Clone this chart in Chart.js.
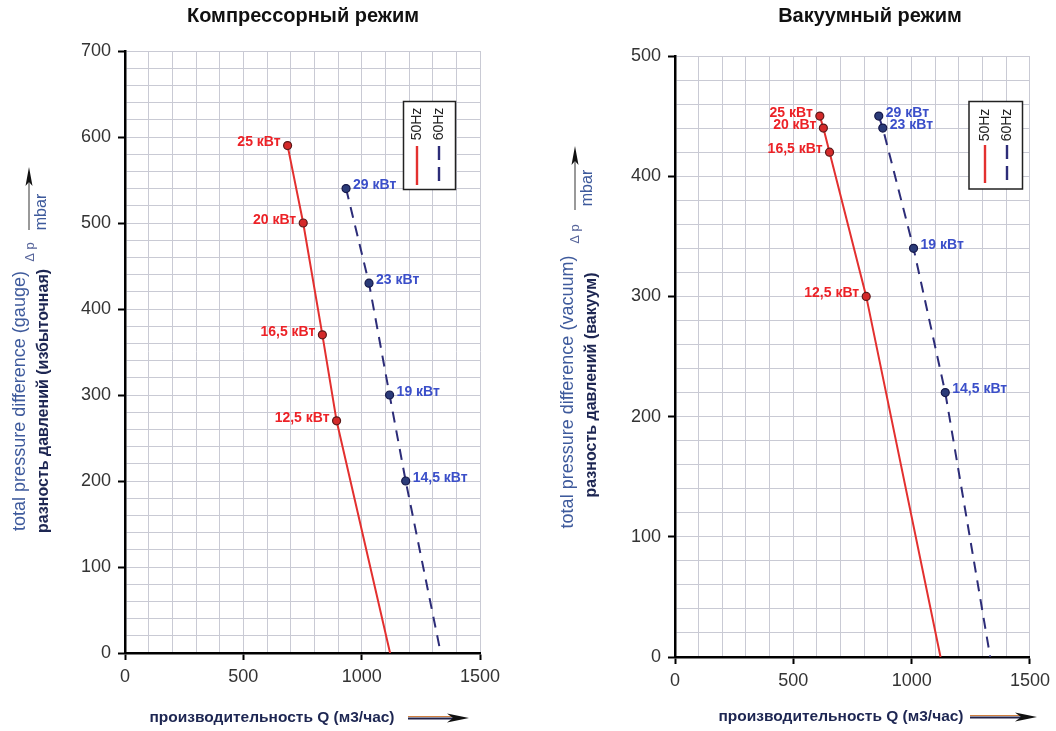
<!DOCTYPE html>
<html>
<head>
<meta charset="utf-8">
<script src="https://cdn.jsdelivr.net/npm/chart.js@4.4.1/dist/chart.umd.min.js"></script>
<style>
  html, body { margin:0; padding:0; background:#fff; }
  #wrap { position:relative; width:1056px; height:731px; }
  .pane { position:absolute; top:0; width:528px; height:731px; }
</style>
</head>
<body>
<div id="wrap">
  <div class="pane" style="left:0"><canvas id="cComp"></canvas></div>
  <div class="pane" style="left:528px"><canvas id="cVac"></canvas></div>
</div>
<script>
// ---------- DATA ----------
const qTickLabels = [0, 500, 1000, 1500];
const compPTickLabels = [0, 100, 200, 300, 400, 500, 600, 700];
const vacPTickLabels = [0, 100, 200, 300, 400, 500];

// Compressor mode
const comp50Q = [687, 753, 834, 894, 1120];
const comp50P = [590, 500, 370, 270, 0];
const comp50Kw = ['25 кВт', '20 кВт', '16,5 кВт', '12,5 кВт', ''];
const comp60Q = [934, 1031, 1118, 1186, 1334];
const comp60P = [540, 430, 300, 200, 0];
const comp60Kw = ['29 кВт', '23 кВт', '19 кВт', '14,5 кВт', ''];

// Vacuum mode
const vac50Q = [612, 627, 653, 808, 1122];
const vac50P = [450, 440, 420, 300, 0];
const vac50Kw = ['25 кВт', '20 кВт', '16,5 кВт', '12,5 кВт', ''];
const vac60Q = [861, 878, 1008, 1142, 1332];
const vac60P = [450, 440, 340, 220, 0];
const vac60Kw = ['29 кВт', '23 кВт', '19 кВт', '14,5 кВт', ''];

const seriesNames = ['50Hz', '60Hz'];

// ---------- STYLE ----------
const FONT = '"Liberation Sans", Arial, Helvetica, sans-serif';
const RED = '#e3302f';
const BLUE = '#2c2c78';
const RED_LABEL = '#ec2227';
const BLUE_LABEL = '#3b4fc9';

function pts(q, p) { return q.map((x, i) => ({ x: x, y: p[i] })); }

function rotText(ctx, text, x, y, font, color) {
  ctx.save();
  ctx.translate(x, y);
  ctx.rotate(-Math.PI / 2);
  ctx.font = font + ' ' + FONT;
  ctx.fillStyle = color;
  ctx.textAlign = 'center';
  ctx.textBaseline = 'middle';
  ctx.fillText(text, 0, 0);
  ctx.restore();
}

const decor = {
  id: 'decor',
  afterDatasetsDraw(chart, args, o) {
    const ctx = chart.ctx;
    ctx.save();
    chart.data.datasets.forEach((ds, di) => {
      const meta = chart.getDatasetMeta(di);
      ctx.font = 'bold 14px ' + FONT;
      ctx.fillStyle = ds.kwColor;
      ctx.textBaseline = 'middle';
      ctx.textAlign = ds.kwSide === 'left' ? 'right' : 'left';
      meta.data.forEach((el, i) => {
        const t = ds.kw[i];
        if (!t) return;
        const dx = ds.kwSide === 'left' ? -7 : 7;
        ctx.fillText(t, el.x + dx, el.y - 3);
      });
    });
    ctx.restore();
  },
  afterDraw(chart, args, o) {
    const ctx = chart.ctx;
    ctx.save();
    // title
    ctx.font = 'bold 20px ' + FONT;
    ctx.fillStyle = '#111';
    ctx.textAlign = 'center';
    ctx.textBaseline = 'middle';
    ctx.fillText(o.title, o.titleX, 16);

    // y-axis titles
    rotText(ctx, o.yEn, o.yEnX, o.yEnY, '18px', '#3e5a9c');
    rotText(ctx, o.yRu, o.yRuX, o.yRuY, 'bold 16px', '#1d2652');
    rotText(ctx, 'Δ p', o.dpX, o.dpY, '13px', '#56649a');
    rotText(ctx, 'mbar', o.mbarX, o.mbarY, '16px', '#3e5a9c');

    // vertical arrow
    ctx.strokeStyle = '#777';
    ctx.lineWidth = 1.5;
    ctx.beginPath();
    ctx.moveTo(o.arX, o.arY1);
    ctx.lineTo(o.arX, o.arY2 + 10);
    ctx.stroke();
    ctx.fillStyle = '#111';
    ctx.beginPath();
    ctx.moveTo(o.arX, o.arY2);
    ctx.lineTo(o.arX - 3.5, o.arY2 + 19);
    ctx.lineTo(o.arX, o.arY2 + 15);
    ctx.lineTo(o.arX + 3.5, o.arY2 + 19);
    ctx.closePath();
    ctx.fill();

    // x-axis title
    ctx.font = 'bold 15.5px ' + FONT;
    ctx.fillStyle = '#1d2652';
    ctx.textAlign = 'center';
    ctx.textBaseline = 'middle';
    ctx.fillText(o.xt, o.xtX, o.xtY);
    // horizontal arrow
    ctx.strokeStyle = '#d08040';
    ctx.lineWidth = 1;
    ctx.beginPath();
    ctx.moveTo(o.hx1, o.xtY - 1.5);
    ctx.lineTo(o.hx2 - 16, o.xtY - 1.5);
    ctx.stroke();
    ctx.strokeStyle = '#23234a';
    ctx.lineWidth = 2;
    ctx.beginPath();
    ctx.moveTo(o.hx1, o.xtY + 0.5);
    ctx.lineTo(o.hx2 - 10, o.xtY + 0.5);
    ctx.stroke();
    ctx.fillStyle = '#111';
    ctx.beginPath();
    ctx.moveTo(o.hx2, o.xtY);
    ctx.lineTo(o.hx2 - 22, o.xtY - 4.5);
    ctx.lineTo(o.hx2 - 16, o.xtY);
    ctx.lineTo(o.hx2 - 22, o.xtY + 4.5);
    ctx.closePath();
    ctx.fill();

    // legend box
    const L = o.leg;
    ctx.fillStyle = '#fff';
    ctx.fillRect(L.x1, L.y1, L.x2 - L.x1, L.y2 - L.y1);
    ctx.strokeStyle = '#222';
    ctx.lineWidth = 1.5;
    ctx.strokeRect(L.x1, L.y1, L.x2 - L.x1, L.y2 - L.y1);
    chart.data.datasets.forEach((ds, di) => {
      const cx = L.cx[di];
      rotText(ctx, ds.label, cx, L.ty, '14px', '#222');
      ctx.strokeStyle = ds.borderColor;
      ctx.lineWidth = 2.4;
      ctx.setLineDash(ds.borderDash.length ? [14, 7] : []);
      ctx.beginPath();
      ctx.moveTo(cx, L.ly1);
      ctx.lineTo(cx, L.ly2);
      ctx.stroke();
      ctx.setLineDash([]);
    });
    ctx.restore();
  }
};

function makeChart(id, s50, s60, yMax, yTicks, lay, deco) {
  const mk = (s, color, dash, ptFill, ptBorder, side, lc) => ({
    label: s.name,
    data: pts(s.q, s.p),
    kw: s.kw,
    kwSide: side,
    kwColor: lc,
    borderColor: color,
    borderWidth: 2,
    borderDash: dash,
    pointRadius: s.kw.map(t => t ? 4 : 0),
    pointBackgroundColor: ptFill,
    pointBorderColor: ptBorder,
    pointBorderWidth: 1.2,
    tension: 0,
    fill: false,
    showLine: true
  });
  const tickStyle = { size: 18, family: FONT };
  return new Chart(document.getElementById(id), {
    type: 'scatter',
    data: {
      datasets: [
        mk(s50, RED, [], '#d42a2a', '#5a1a1a', 'left', RED_LABEL),
        mk(s60, BLUE, [11, 8], '#2b3b78', '#15184a', 'right', BLUE_LABEL)
      ]
    },
    options: {
      responsive: true,
      maintainAspectRatio: false,
      animation: false,
      devicePixelRatio: 1,
      layout: { padding: lay.padding },
      plugins: {
        legend: { display: false },
        tooltip: { enabled: false },
        title: { display: false },
        decor: deco
      },
      scales: {
        x: {
          type: 'linear', min: 0, max: 1500,
          afterFit: sc => { sc.height = lay.xh; },
          ticks: {
            stepSize: 100, autoSkip: false, maxRotation: 0, padding: 6,
            color: '#333', font: tickStyle,
            callback: v => qTickLabels.includes(v) ? String(v) : ''
          },
          grid: {
            color: '#c9cad4', lineWidth: 1, tickLength: 7, tickWidth: 2,
            tickColor: c => (c.tick && qTickLabels.includes(c.tick.value)) ? '#000' : 'rgba(0,0,0,0)'
          },
          border: { color: '#000', width: 2.5 }
        },
        y: {
          type: 'linear', min: 0, max: yMax,
          afterFit: sc => { sc.width = lay.yw; },
          ticks: {
            stepSize: 20, autoSkip: false, padding: 7,
            color: '#333', font: tickStyle,
            callback: v => yTicks.includes(v) ? String(v) : ''
          },
          grid: {
            color: '#c9cad4', lineWidth: 1, tickLength: 7, tickWidth: 2,
            tickColor: c => (c.tick && yTicks.includes(c.tick.value)) ? '#000' : 'rgba(0,0,0,0)'
          },
          border: { color: '#000', width: 2.5 }
        }
      }
    },
    plugins: [decor]
  });
}

makeChart('cComp',
  { name: seriesNames[0], q: comp50Q, p: comp50P, kw: comp50Kw },
  { name: seriesNames[1], q: comp60Q, p: comp60P, kw: comp60Kw },
  700, compPTickLabels,
  { padding: { left: 0, right: 48, top: 51, bottom: 0 }, yw: 125, xh: 78 },
  {
    title: 'Компрессорный режим', titleX: 303,
    yEn: 'total pressure difference (gauge)', yEnX: 20, yEnY: 401,
    yRu: 'разность давлений (избыточная)', yRuX: 44, yRuY: 401,
    dpX: 30, dpY: 252, mbarX: 42, mbarY: 212,
    arX: 29, arY1: 230, arY2: 167,
    xt: 'производительность Q (м3/час)', xtX: 272, xtY: 718, hx1: 408, hx2: 469,
    leg: { x1: 403.5, y1: 101.5, x2: 455.5, y2: 189.5, cx: [417, 439], ty: 124, ly1: 146, ly2: 185 }
  });

makeChart('cVac',
  { name: seriesNames[0], q: vac50Q, p: vac50P, kw: vac50Kw },
  { name: seriesNames[1], q: vac60Q, p: vac60P, kw: vac60Kw },
  500, vacPTickLabels,
  { padding: { left: 0, right: 24, top: 56, bottom: 0 }, yw: 147, xh: 74 },
  {
    title: 'Вакуумный режим', titleX: 342,
    yEn: 'total pressure difference (vacuum)', yEnX: 40, yEnY: 392,
    yRu: 'разность давлений (вакуум)', yRuX: 64, yRuY: 385,
    dpX: 47, dpY: 234, mbarX: 60, mbarY: 188,
    arX: 47, arY1: 210, arY2: 146,
    xt: 'производительность Q (м3/час)', xtX: 313, xtY: 717, hx1: 442, hx2: 509,
    leg: { x1: 441, y1: 101.5, x2: 494.5, y2: 189, cx: [457, 479], ty: 125, ly1: 145, ly2: 183 }
  });
</script>
</body>
</html>
